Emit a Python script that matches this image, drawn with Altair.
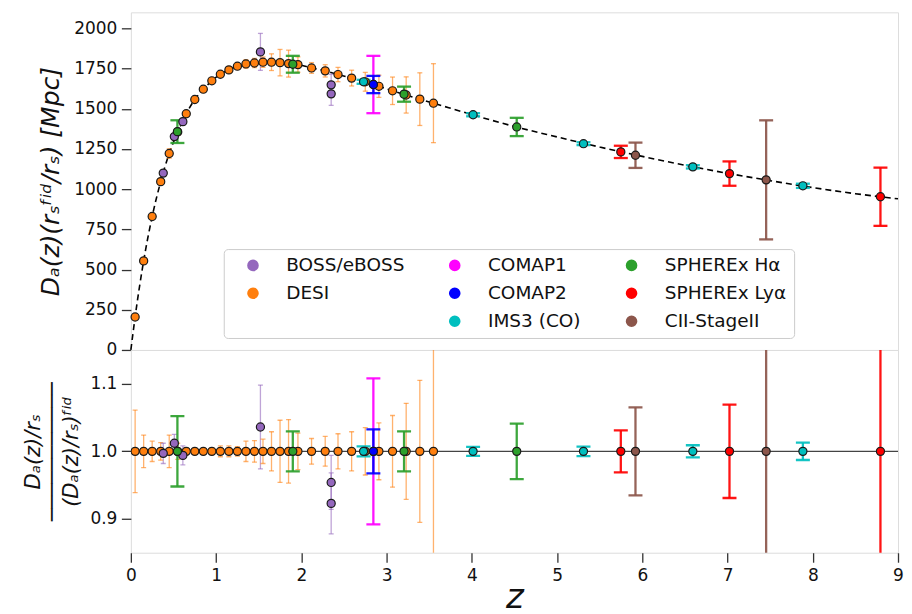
import altair as alt
import pandas as pd

# ---------------- data ----------------
curve_z = [0.0, 0.05, 0.15, 0.25, 0.35, 0.45, 0.55, 0.65, 0.75, 0.85, 0.95, 1.05, 1.15,
           1.25, 1.35, 1.45, 1.55, 1.65, 1.75, 1.85, 1.96, 2.12, 2.28, 2.43, 2.59, 2.75,
           2.91, 3.07, 3.23, 3.39, 3.55, 4.0, 4.5, 5.0, 5.5, 6.0, 6.5, 7.0, 7.5, 8.0,
           8.5, 9.0]
curve_D = [0, 205, 554, 830, 1047, 1222, 1356, 1469, 1558, 1622, 1674, 1715, 1742,
           1765, 1779, 1785, 1790, 1790, 1787, 1781, 1775, 1754, 1736, 1713, 1691, 1668,
           1640, 1612, 1586, 1560, 1535, 1464, 1390, 1325, 1262, 1204, 1149, 1099, 1053,
           1010, 972, 940]

desi_z = [0.05, 0.15, 0.25, 0.35, 0.45, 0.55, 0.65, 0.75, 0.85, 0.95, 1.05, 1.15, 1.25,
          1.35, 1.45, 1.55, 1.65, 1.75, 1.85, 1.96, 2.12, 2.28, 2.43, 2.59, 2.75, 2.91,
          3.07, 3.23, 3.39, 3.55]
desi_D = [205, 554, 830, 1047, 1222, 1356, 1469, 1558, 1622, 1674, 1715, 1742, 1765,
          1779, 1785, 1790, 1790, 1787, 1781, 1775, 1754, 1736, 1713, 1691, 1668, 1640,
          1612, 1586, 1560, 1535]
desi_ratio = [1.0, 1.0, 1.0, 1.0, 1.0, 1.0, 1.0, 1.0, 1.0, 1.0, 1.0, 1.0, 1.0, 1.0, 1.0,
              1.0, 1.0, 1.0, 1.0, 1.0, 1.0, 1.0, 1.0, 1.0, 1.0, 1.0, 1.0, 1.0, 1.0, 1.0]
desi_err = [0.061, 0.024, 0.015, 0.013, 0.024, 0.012, 0.005, 0.004, 0.004, 0.005, 0.008,
            0.008, 0.007, 0.015, 0.016, 0.018, 0.029, 0.046, 0.047, 0.027, 0.019, 0.022,
            0.026, 0.029, 0.035, 0.042, 0.053, 0.071, 0.105, 0.16]

boss_z = [0.38, 0.51, 0.61, 1.52, 2.35, 2.35]
boss_D = [1100, 1327, 1420, 1854, 1649, 1593]
boss_ratio = [0.997, 1.012, 0.994, 1.036, 0.954, 0.923]
boss_err = [0.015, 0.013, 0.014, 0.062, 0.040, 0.045]

comap1_z = [2.845]
comap1_D = [1651]
comap1_ratio = [1.0]
comap1_err = [0.108]

comap2_z = [2.845]
comap2_D = [1651]
comap2_ratio = [1.0]
comap2_err = [0.0325]

ims3_z = [2.73, 4.015, 5.31, 6.593, 7.884]
ims3_D = [1668, 1463, 1283, 1139, 1021]
ims3_ratio = [1.0, 1.0, 1.0, 1.0, 1.0]
ims3_err = [0.0074, 0.0066, 0.007, 0.009, 0.0128]

sphx_ha_z = [0.546, 1.90, 3.205, 4.527]
sphx_ha_D = [1358, 1777, 1591, 1387]
sphx_ha_ratio = [1.0, 1.0, 1.0, 1.0]
sphx_ha_err = [0.052, 0.0295, 0.0295, 0.041]

sphx_lya_z = [5.748, 7.023, 8.794]
sphx_lya_D = [1232, 1097, 953]
sphx_lya_ratio = [1.0, 1.0, 1.0]
sphx_lya_err = [0.031, 0.069, 0.19]

cii_z = [5.92, 7.453]
cii_D = [1211, 1058]
cii_ratio = [1.0, 1.0]
cii_err = [0.065, 0.35]

surveys = ["DESI", "BOSS/eBOSS", "COMAP1", "COMAP2", "IMS3 (CO)",
           "SPHEREx Hα", "SPHEREx Lyα", "CII-StageII"]
survey_colors = ["#ff7f0e", "#9467bd", "#ff00ff", "#0000ff", "#00bfbf",
                 "#2ca02c", "#ff0000", "#8c564b"]

# legend order (column-major, 3 rows, with a blank slot)
legend_domain = ["BOSS/eBOSS", "DESI", " ",
                 "COMAP1", "COMAP2", "IMS3 (CO)",
                 "SPHEREx Hα", "SPHEREx Lyα", "CII-StageII"]
color_of = dict(zip(surveys, survey_colors))
legend_range = [color_of.get(s, "transparent") for s in legend_domain]

# ---------------- build tables ----------------
series = [
    ("DESI", desi_z, desi_D, desi_ratio, desi_err),
    ("BOSS/eBOSS", boss_z, boss_D, boss_ratio, boss_err),
    ("COMAP1", comap1_z, comap1_D, comap1_ratio, comap1_err),
    ("COMAP2", comap2_z, comap2_D, comap2_ratio, comap2_err),
    ("IMS3 (CO)", ims3_z, ims3_D, ims3_ratio, ims3_err),
    ("SPHEREx Hα", sphx_ha_z, sphx_ha_D, sphx_ha_ratio, sphx_ha_err),
    ("SPHEREx Lyα", sphx_lya_z, sphx_lya_D, sphx_lya_ratio, sphx_lya_err),
    ("CII-StageII", cii_z, cii_D, cii_ratio, cii_err),
]
rows = []
for name, zs, Ds, rs, es in series:
    for z, D, r, e in zip(zs, Ds, rs, es):
        rows.append({"survey": name, "z": z, "D": D, "ratio": r, "err": e,
                     "D_lo": D * (1 - e), "D_hi": D * (1 + e),
                     "r_lo": r - e, "r_hi": r + e})
df = pd.DataFrame(rows)
curve = pd.DataFrame({"z": curve_z, "D": curve_D})
one = pd.DataFrame({"r": [1.0]})

thin = ["DESI", "BOSS/eBOSS"]
thick = [s for s in surveys if s not in thin]

W, H1, H2 = 768, 338, 203
FONT = "DejaVu Sans"

xscale = alt.Scale(domain=[0, 9], nice=False, zero=False)
x_top = alt.X("z:Q", scale=xscale, axis=None)
x_bot = alt.X("z:Q", scale=xscale, axis=alt.Axis(
    values=list(range(10)), tickSize=9.5, tickWidth=1.3, tickColor="#333",
    labelFontSize=17, labelFont=FONT, labelColor="#111", labelPadding=5,
    labelFlush=False, labelOverlap=False, domain=False, grid=False,
    title="z", titleFontSize=34, titleFont=FONT, titleFontStyle="italic",
    titleFontWeight="normal", titleColor="#111", titlePadding=-3))

yscale_top = alt.Scale(domain=[0, 2100], nice=False, zero=False)
yscale_bot = alt.Scale(domain=[0.85, 1.15], nice=False, zero=False)

y_top_axis = alt.Axis(
    values=[0, 250, 500, 750, 1000, 1250, 1500, 1750, 2000], format="d",
    tickSize=9.5, tickWidth=1.3, tickColor="#333", labelFontSize=17,
    labelFont=FONT, labelColor="#111", labelPadding=4.5, labelFlush=False,
    domain=False, grid=False, title="Dₐ(z)(rₛᶠⁱᵈ/rₛ)  [Mpc]", titleFontSize=25,
    titleFont=FONT, titleFontStyle="italic", titleFontWeight="normal",
    titleColor="#111", titlePadding=10)
y_bot_axis = alt.Axis(
    values=[0.9, 1.0, 1.1], format=".1f", tickSize=9.5, tickWidth=1.3,
    tickColor="#333", labelFontSize=17, labelFont=FONT, labelColor="#111",
    labelPadding=4.5, labelFlush=False, domain=False, grid=False,
    title=["Dₐ(z)/rₛ", "───────────", "(Dₐ(z)/rₛ)ᶠⁱᵈ"], titleFontSize=21,
    titleLineHeight=19, titleFont=FONT, titleFontStyle="italic",
    titleFontWeight="normal", titleColor="#111", titlePadding=8)

ecolor = alt.Color("survey:N", scale=alt.Scale(domain=surveys, range=survey_colors),
                   legend=None)

legend = alt.Legend(
    orient="none", legendX=93, legendY=237, columns=3, title=None,
    gridAlign="each",
    labelFontSize=18.5, labelFont=FONT, labelColor="#111", labelLimit=400,
    symbolType="circle", symbolSize=135, symbolStrokeWidth=0,
    symbolOpacity=1, padding=7, rowPadding=9, columnPadding=28,
    symbolOffset=13, labelOffset=24, strokeColor="#cccccc",
    fillColor="rgba(255,255,255,0.85)", cornerRadius=4)


def panel(ycol, lo, hi, yscale, yaxis, h, clip, with_legend):
    base = alt.Chart(df)
    x = x_top if with_legend else x_bot
    layers = []
    if with_legend:
        layers.append(alt.Chart(curve).mark_line(
            color="black", strokeWidth=1.6, strokeDash=[6, 4],
            interpolate="monotone").encode(
            x=x, y=alt.Y("D:Q", scale=yscale, axis=yaxis)))
    else:
        layers.append(alt.Chart(one).mark_rule(color="#444", strokeWidth=1.1).encode(
            y=alt.Y("r:Q", scale=yscale, axis=yaxis)))
    for group, sw, cap, op in [(thin, 1.3, 5, 0.6), (thick, 2.3, 14, 0.92)]:
        sub = base.transform_filter(alt.FieldOneOfPredicate(field="survey", oneOf=group))
        layers.append(sub.mark_rule(strokeWidth=sw, opacity=op, clip=clip).encode(
            x=x, y=alt.Y(f"{lo}:Q", scale=yscale), y2=f"{hi}:Q", color=ecolor))
        for c in (lo, hi):
            layers.append(sub.mark_tick(orient="horizontal", size=cap, thickness=sw,
                                        opacity=op, clip=clip).encode(
                x=x, y=alt.Y(f"{c}:Q", scale=yscale), color=ecolor))
    fill = alt.Fill("survey:N",
                    scale=alt.Scale(domain=legend_domain, range=legend_range),
                    legend=legend if with_legend else None)
    layers.append(base.mark_circle(size=66, stroke="#1a1a1a", strokeWidth=1.2,
                                   opacity=1, clip=clip).encode(
        x=x, y=alt.Y(f"{ycol}:Q", scale=yscale), fill=fill))
    return alt.layer(*layers).properties(width=W, height=h)


top = panel("D", "D_lo", "D_hi", yscale_top, y_top_axis, H1, False, True)
bottom = panel("ratio", "r_lo", "r_hi", yscale_bot, y_bot_axis, H2, True, False)

chart = alt.vconcat(top, bottom, spacing=0, bounds="flush").resolve_scale(
    x="independent", y="independent", fill="independent", color="independent"
).resolve_legend(fill="independent", color="independent").properties(
    padding={"left": 14, "top": 3, "right": 0, "bottom": 0}
).configure_view(stroke="#262626", strokeWidth=1.3).configure(font=FONT)

chart.save("out.html", embed_options={"renderer": "svg", "actions": False})
